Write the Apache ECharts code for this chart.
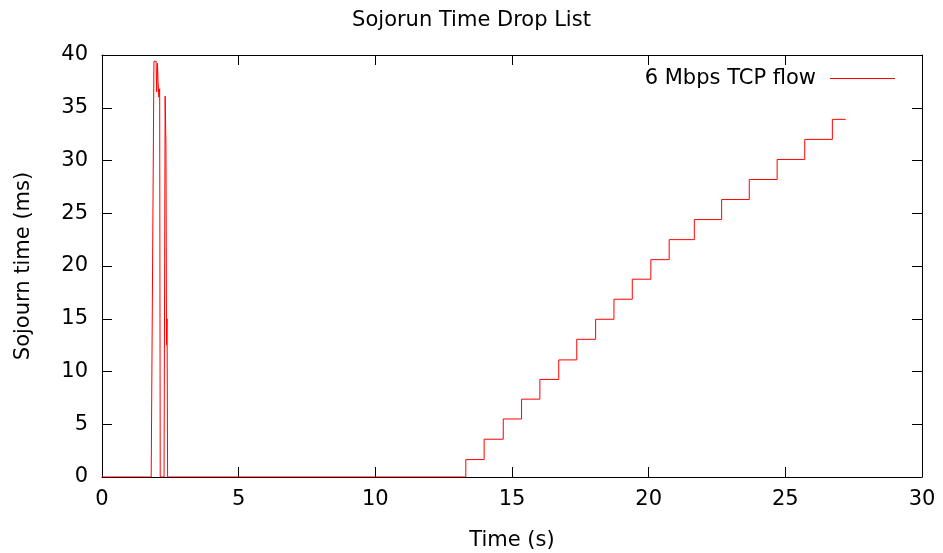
<!DOCTYPE html>
<html>
<head>
<meta charset="utf-8">
<script src="https://cdn.jsdelivr.net/npm/echarts@6/dist/echarts.min.js"></script>
<style>html,body{margin:0;padding:0;background:#fff}#c{width:943px;height:553px}</style>
</head>
<body>
<div id="c"></div>
<script>
const spikeTimes  = [0, 1.80, 1.90, 1.98, 2.00, 2.03, 2.05, 2.08, 2.11, 2.13, 2.27, 2.31, 2.34, 2.36, 2.38, 2.40];
const spikeValues = [0, 0, 39.4, 39.4, 36.5, 39.2, 37.5, 36.0, 36.8, 0, 0, 36.1, 31.5, 12.5, 15.0, 0];
const stepTimes  = [13.31, 13.98, 14.68, 15.35, 16.02, 16.71, 17.37, 18.06, 18.73, 19.40, 20.08, 20.75, 21.67, 22.67, 23.68, 24.70, 25.71, 26.72];
const stepLevels = [1.65, 3.58, 5.5, 7.38, 9.25, 11.1, 13.05, 14.95, 16.85, 18.75, 20.6, 22.5, 24.4, 26.3, 28.2, 30.1, 32.0, 33.9];
const endTime = 27.21;

const data = [];
spikeTimes.forEach((t, i) => data.push([t, spikeValues[i]]));
data.push([stepTimes[0], 0]);
stepTimes.forEach((t, i) => {
  if (i > 0) data.push([t, stepLevels[i - 1]]);
  data.push([t, stepLevels[i]]);
});
data.push([endTime, stepLevels[stepLevels.length - 1]]);

const FONT = 'DejaVu Sans';
const FS = 21;
const chart = echarts.init(document.getElementById('c'), null, {renderer: 'canvas'});
function axisCommon() {
  return {
    type: 'value',
    splitLine: {show: false},
    axisLine: {show: true, onZero: false, lineStyle: {color: '#000', width: 1}},
    axisTick: {show: true, inside: true, length: 10, lineStyle: {color: '#000', width: 1}},
  };
}
chart.setOption({
  animation: false,
  backgroundColor: '#fff',
  title: {
    text: 'Sojorun Time Drop List', left: 'center', top: 5,
    textStyle: {fontFamily: FONT, fontSize: FS, fontWeight: 'normal', color: '#000'}
  },
  legend: {
    data: ['6 Mbps TCP flow'],
    right: 48, top: 68, padding: 0,
    align: 'right',
    icon: 'rect', itemWidth: 65, itemHeight: 1,
    itemStyle: {color: '#ff0000', borderWidth: 0},
    textStyle: {fontFamily: FONT, fontSize: FS, color: '#000', padding: [0, 9, 0, 0]}
  },
  grid: {left: 102, right: 21, top: 55, bottom: 76, containLabel: false, outerBoundsMode: 'none'},
  xAxis: [
    Object.assign(axisCommon(), {
      position: 'bottom', min: 0, max: 30, interval: 5,
      name: 'Time (s)', nameLocation: 'middle', nameGap: 53,
      nameTextStyle: {fontFamily: FONT, fontSize: FS, color: '#000'},
      axisLabel: {fontFamily: FONT, fontSize: FS, color: '#000', margin: 12},
    }),
    Object.assign(axisCommon(), {
      position: 'top', min: 0, max: 30, interval: 5,
      axisLabel: {show: false}
    })
  ],
  yAxis: [
    Object.assign(axisCommon(), {
      position: 'left', min: 0, max: 40, interval: 5,
      name: 'Sojourn time (ms)', nameLocation: 'middle', nameGap: 68,
      nameTextStyle: {fontFamily: FONT, fontSize: FS, color: '#000'},
      axisLabel: {fontFamily: FONT, fontSize: FS, color: '#000', margin: 14},
    }),
    Object.assign(axisCommon(), {
      position: 'right', min: 0, max: 40, interval: 5,
      axisLabel: {show: false}
    })
  ],
  series: [{
    name: '6 Mbps TCP flow',
    type: 'line',
    xAxisIndex: 0, yAxisIndex: 0,
    data: data,
    showSymbol: false, symbol: 'none',
    lineStyle: {color: '#ff0000', width: 1},
    itemStyle: {color: '#ff0000'},
    emphasis: {disabled: true}
  }]
});
</script>
</body>
</html>
